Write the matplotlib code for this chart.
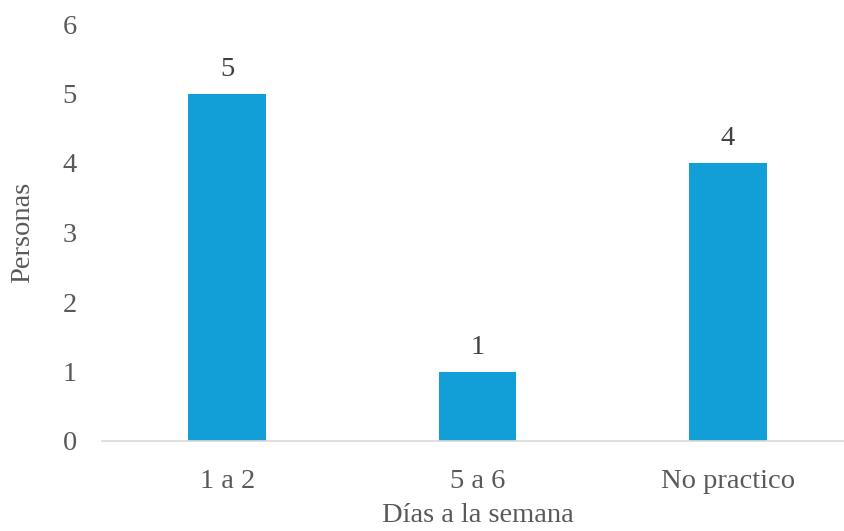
import matplotlib.pyplot as plt

categories = ["1 a 2", "5 a 6", "No practico"]
values = [5, 1, 4]
y_ticks = [0, 1, 2, 3, 4, 5, 6]

plt.rcParams['font.family'] = ['Liberation Serif', 'DejaVu Serif']
fs = 20.5

fig = plt.figure(figsize=(8.44, 5.31), dpi=100)
ax = fig.add_axes([102 / 844, 90 / 531, 751 / 844, 417 / 531])

x = range(len(categories))
bars = ax.bar(x, values, width=0.31, color='#129ED6', zorder=2)
for xi, v in zip(x, values):
    ax.text(xi, v + 0.17, str(v), ha='center', va='bottom', fontsize=fs, color='#404040')

ax.set_xlim(-0.5, 2.5)
ax.set_ylim(0, 6)
ax.set_yticks(y_ticks)
ax.set_xticks(list(x))
ax.set_xticklabels(categories)
ax.tick_params(axis='y', length=0, pad=18, labelsize=fs, labelcolor='#595959')
ax.tick_params(axis='x', length=0, pad=20, labelsize=fs, labelcolor='#595959')

for side in ['top', 'right', 'left']:
    ax.spines[side].set_visible(False)
ax.spines['bottom'].set_color('#d9d9d9')
ax.spines['bottom'].set_linewidth(1.2)

ax.set_xlabel("Días a la semana", fontsize=fs, color='#595959', labelpad=7)
ax.set_ylabel("Personas", fontsize=fs, color='#595959', labelpad=20)

plt.savefig("out.png", dpi=100)
